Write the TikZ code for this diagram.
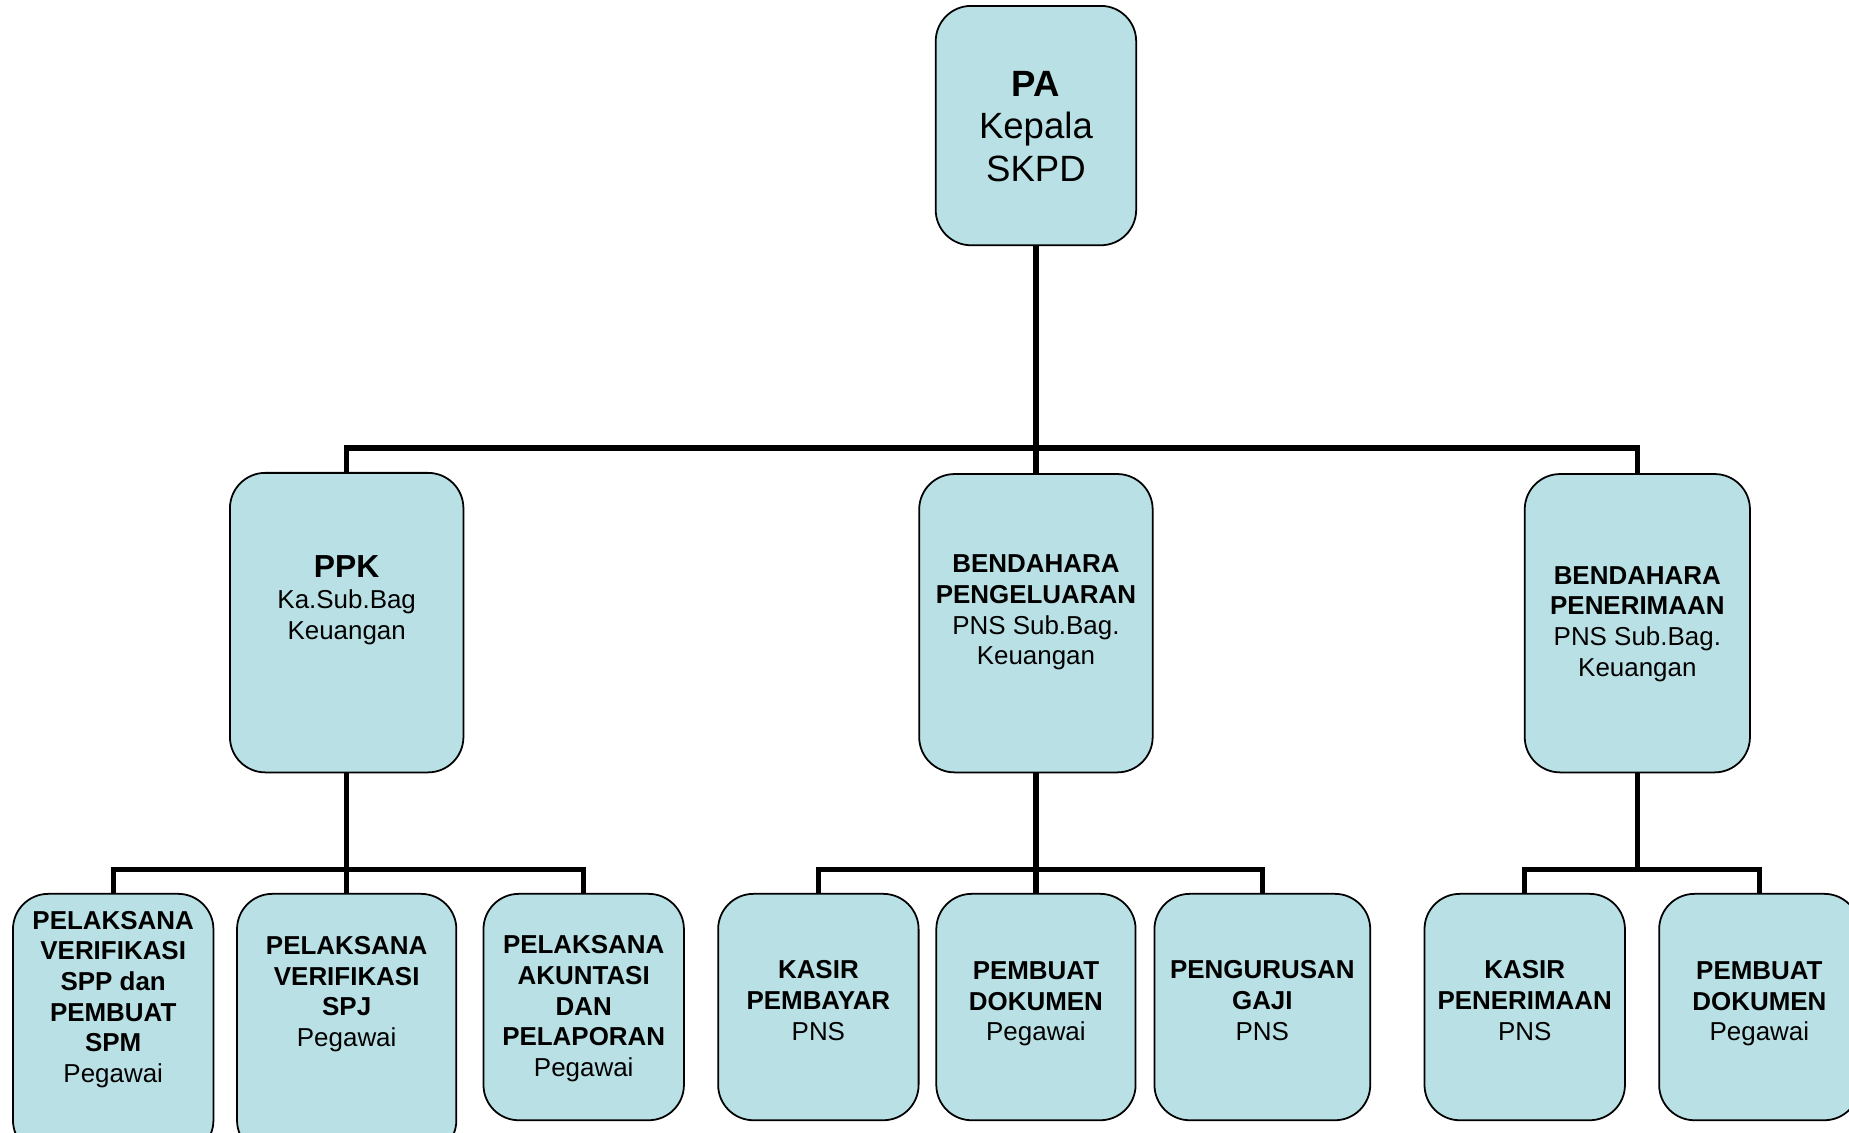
\documentclass[tikz,border=0pt]{standalone}
\usepackage{fontspec}
\setmainfont{Liberation Sans}
\definecolor{boxfill}{RGB}{185,224,228}
\begin{document}
\begin{tikzpicture}[x=1pt,y=-1pt,
  orgbox/.style={draw=black, line width=1.5pt, fill=boxfill, rounded corners=30pt, inner sep=0pt},
  lbl/.style={align=center, font=\fontsize{22}{26}\selectfont, inner sep=0pt},
  link/.style={line width=4.5pt, line join=miter}]
\useasboundingbox (0,0) rectangle (1568,960);
\clip (0,0) rectangle (1568,960);
% top
\node[orgbox, minimum width=170pt, minimum height=203pt] (pa) at (878.5,106.5) {};
% middle row
\node[orgbox, minimum width=198pt, minimum height=254pt] (ppk) at (294,528) {};
\node[orgbox, minimum width=198pt, minimum height=253pt] (bp) at (878.5,528.5) {};
\node[orgbox, minimum width=191pt, minimum height=253pt] (bpn) at (1388.5,528.5) {};
% bottom row
\node[orgbox, minimum width=170pt, minimum height=222pt] (b1) at (96,869) {};
\node[orgbox, minimum width=186pt, minimum height=222pt] (b2) at (294,869) {};
\node[orgbox, minimum width=170pt, minimum height=192pt] (b3) at (495,854) {};
\node[orgbox, minimum width=170pt, minimum height=192pt] (m1) at (694,854) {};
\node[orgbox, minimum width=169pt, minimum height=192pt] (m2) at (878.5,854) {};
\node[orgbox, minimum width=183pt, minimum height=192pt] (m3) at (1070.5,854) {};
\node[orgbox, minimum width=170pt, minimum height=192pt] (r1) at (1293,854) {};
\node[orgbox, minimum width=170pt, minimum height=192pt] (r2) at (1492,854) {};
% texts
\node[lbl, font=\fontsize{31}{36}\selectfont] (tpa) at (878.5,107) {\textbf{PA}\\Kepala\\SKPD};
\node[lbl] (tppk) at (294,509) {{\fontsize{27}{29}\selectfont\textbf{PPK}}\\Ka.Sub.Bag\\Keuangan};
\node[lbl] (tbp) at (878.5,519.5) {\textbf{BENDAHARA}\\\textbf{PENGELUARAN}\\PNS Sub.Bag.\\Keuangan};
\node[lbl] (tbpn) at (1388.5,529) {\textbf{BENDAHARA}\\\textbf{PENERIMAAN}\\PNS Sub.Bag.\\Keuangan};
\node[lbl] (tb1) at (96,847.5) {\textbf{PELAKSANA}\\\textbf{VERIFIKASI}\\\textbf{SPP dan}\\\textbf{PEMBUAT}\\\textbf{SPM}\\Pegawai};
\node[lbl] (tb2) at (294,843) {\textbf{PELAKSANA}\\\textbf{VERIFIKASI}\\\textbf{SPJ}\\Pegawai};
\node[lbl] (tb3) at (495,855.5) {\textbf{PELAKSANA}\\\textbf{AKUNTASI}\\\textbf{DAN}\\\textbf{PELAPORAN}\\Pegawai};
\node[lbl] (tm1) at (694,848.5) {\textbf{KASIR}\\\textbf{PEMBAYAR}\\PNS};
\node[lbl] (tm2) at (878.5,851.5) {\textbf{PEMBUAT}\\\textbf{DOKUMEN}\\Pegawai};
\node[lbl] (tm3) at (1070.5,848.5) {\textbf{PENGURUSAN}\\\textbf{GAJI}\\PNS};
\node[lbl] (tr1) at (1293,848.5) {\textbf{KASIR}\\\textbf{PENERIMAAN}\\PNS};
\node[lbl] (tr2) at (1492,851.5) {\textbf{PEMBUAT}\\\textbf{DOKUMEN}\\Pegawai};
% connectors
\coordinate (bus1) at (878.5,380);
\coordinate (busr) at (1388.5,738);
\draw[link] (pa.south) -- (bp.north);
\draw[link] (ppk.north) |- (bus1) -| (bpn.north);
\draw[link] (b1.north) -- ++(0,-20) -| (b3.north);
\draw[link] (ppk.south) -- (b2.north);
\draw[link] (m1.north) -- ++(0,-20) -| (m3.north);
\draw[link] (bp.south) -- (m2.north);
\draw[link] (r1.north) -- ++(0,-20) -| (r2.north);
\draw[link] (bpn.south) -- (busr);
\end{tikzpicture}
\end{document}
